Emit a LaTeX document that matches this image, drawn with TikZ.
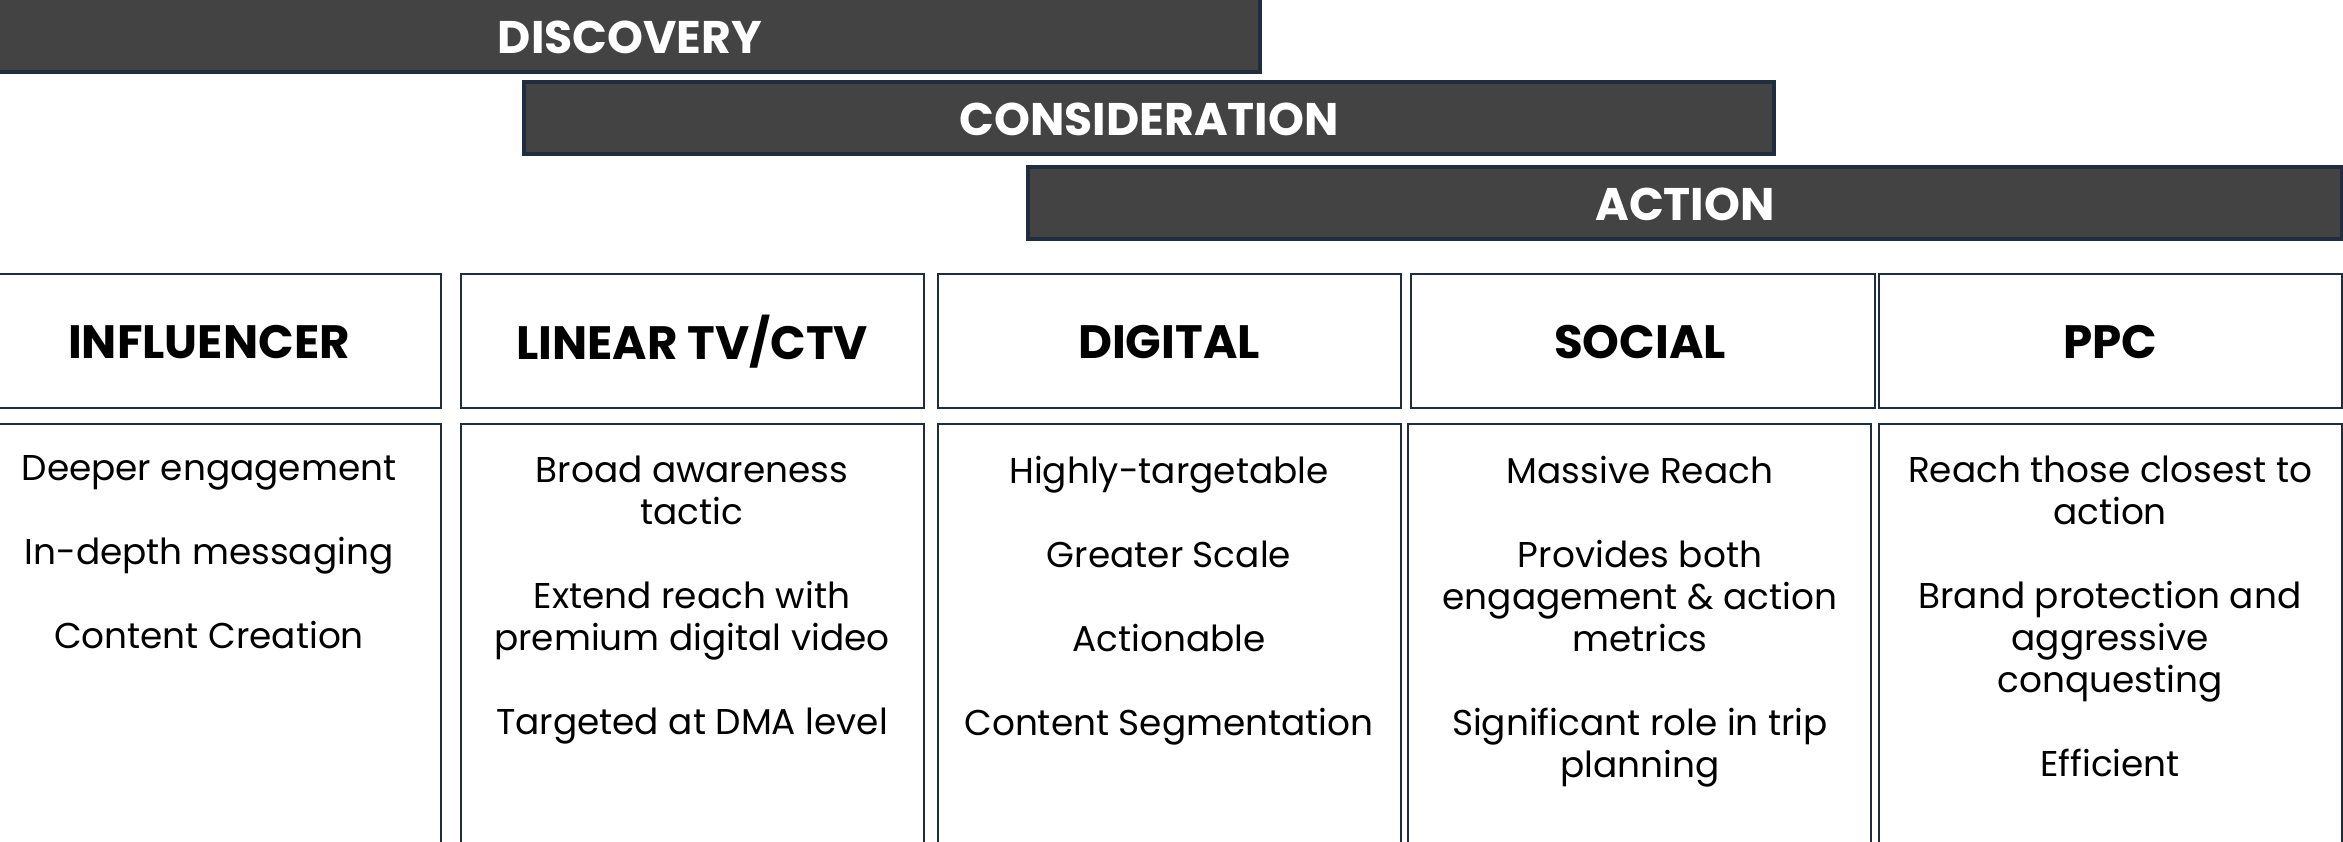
\documentclass[tikz,border=0pt]{standalone}
\usepackage{fontspec}
\setmainfont{Poppins}
\definecolor{barfill}{HTML}{434343}
\definecolor{boxline}{HTML}{1F2D3F}
\tikzset{
  bar/.style={fill=barfill, draw=boxline, line width=1pt},
  bartext/.style={text=white, font=\bfseries\fontsize{13}{15}\selectfont},
  cell/.style={draw=boxline, line width=0.8pt},
  headtext/.style={font=\bfseries\fontsize{13.3}{15}\selectfont},
  bodytext/.style={anchor=north, align=center, inner sep=0pt, font=\fontsize{10.2}{11.95}\selectfont},
}
\begin{document}
\begin{tikzpicture}[x=0.01cm, y=-0.01cm]
\useasboundingbox (0,0) rectangle (2343,841);
%% The three stage bars. Each one is a plain rectangle with its label set in the middle.
    \draw[bar] (-10,-10) rectangle (1260,72);
    \node[bartext] (discovery) at (630,37) {DISCOVERY};
    \draw[bar] (524,82) rectangle (1774,154);
    \node[bartext] (consideration) at (1149,119) {CONSIDERATION};
    \draw[bar] (1028,167) rectangle (2342,239);
    \node[bartext] (action) at (1685,204) {ACTION};
%% Header row of channels
    \draw[cell] (-22,274) rectangle (441,408);
    \node[headtext] (influencer) at (209,342) {INFLUENCER};
    \draw[cell] (461,274) rectangle (924,408);
    \node[headtext] (lineartv) at (692,342) {LINEAR TV/CTV};
    \draw[cell] (938,274) rectangle (1401,408);
    \node[headtext] (digital) at (1169,342) {DIGITAL};
    \draw[cell] (1411,274) rectangle (1875,408);
    \node[headtext] (social) at (1640,342) {SOCIAL};
    \draw[cell] (1879,274) rectangle (2342,408);
    \node[headtext] (ppc) at (2110,342) {PPC};
%% Body row, one blank line between the points
    \draw[cell] (-22,424) rectangle (441,860);
    \node[bodytext] (influencerpts) at (209,455) {Deeper engagement\\[11.95pt]In-depth messaging\\[11.95pt]Content Creation};
    \draw[cell] (461,424) rectangle (924,860);
    \node[bodytext] (lineartvpts) at (692,455) {Broad awareness\\tactic\\[11.95pt]Extend reach with\\premium digital video\\[11.95pt]Targeted at DMA level};
    \draw[cell] (938,424) rectangle (1401,860);
    \node[bodytext] (digitalpts) at (1169,455) {Highly-targetable\\[11.95pt]Greater Scale\\[11.95pt]Actionable\\[11.95pt]Content Segmentation};
    \draw[cell] (1408,424) rectangle (1871,860);
    \node[bodytext] (socialpts) at (1640,455) {Massive Reach\\[11.95pt]Provides both\\engagement \& action\\metrics\\[11.95pt]Significant role in trip\\planning};
    \draw[cell] (1879,424) rectangle (2342,860);
    \node[bodytext] (ppcpts) at (2110,455) {Reach those closest to\\action\\[11.95pt]Brand protection and\\aggressive\\conquesting\\[11.95pt]Efficient};
\end{tikzpicture}
\end{document}
